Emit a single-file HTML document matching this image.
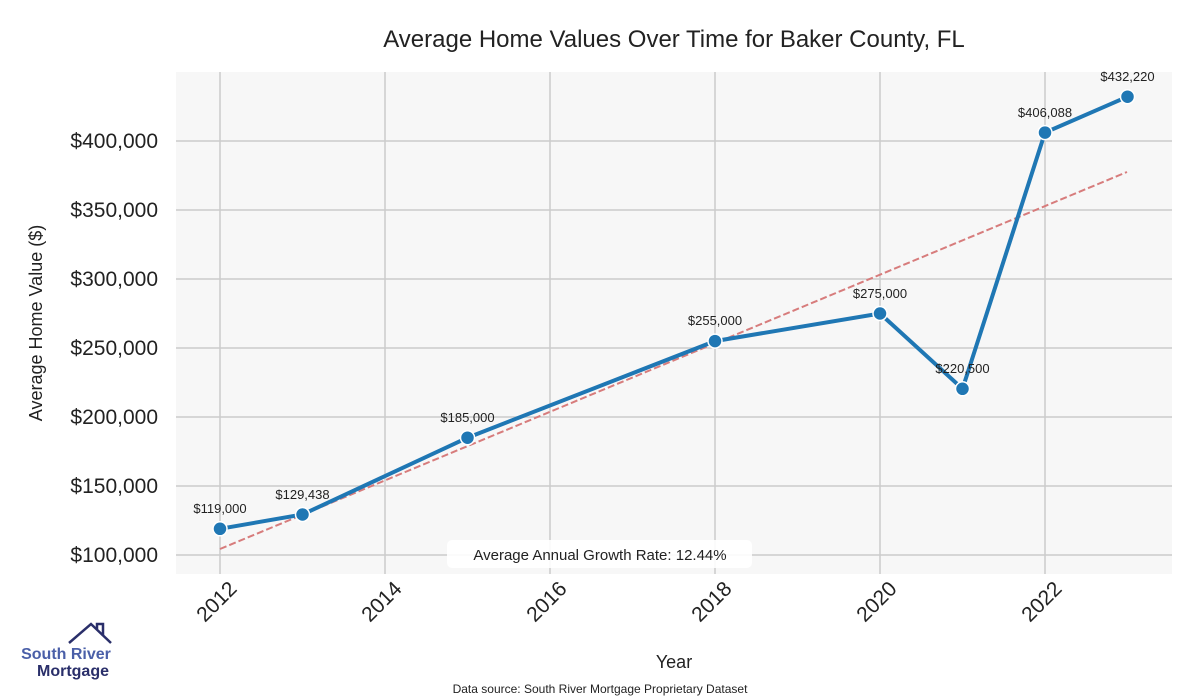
<!DOCTYPE html>
<html><head><style>body{margin:0;background:#fff}svg{display:block}text{font-family:"Liberation Sans",sans-serif}</style></head><body>
<svg width="1200" height="700" viewBox="0 0 1200 700">
<rect x="176" y="72" width="996" height="502" fill="#f7f7f7"/>
<g stroke="#cccccc" stroke-width="1.5">
<line x1="220" y1="72" x2="220" y2="574"/><line x1="385" y1="72" x2="385" y2="574"/><line x1="550" y1="72" x2="550" y2="574"/><line x1="715" y1="72" x2="715" y2="574"/><line x1="880" y1="72" x2="880" y2="574"/><line x1="1045" y1="72" x2="1045" y2="574"/>
<line x1="176" y1="555" x2="1172" y2="555"/><line x1="176" y1="486" x2="1172" y2="486"/><line x1="176" y1="417" x2="1172" y2="417"/><line x1="176" y1="348" x2="1172" y2="348"/><line x1="176" y1="279" x2="1172" y2="279"/><line x1="176" y1="210" x2="1172" y2="210"/><line x1="176" y1="141" x2="1172" y2="141"/>
</g>
<text x="674" y="47" font-size="24" text-anchor="middle" fill="#222">Average Home Values Over Time for Baker County, FL</text>
<g font-size="21" fill="#222" text-anchor="end">
<text x="158" y="562">$100,000</text><text x="158" y="493">$150,000</text><text x="158" y="424">$200,000</text><text x="158" y="355">$250,000</text><text x="158" y="286">$300,000</text><text x="158" y="217">$350,000</text><text x="158" y="148">$400,000</text>
</g>
<text transform="translate(42,323) rotate(-90)" font-size="18" text-anchor="middle" fill="#222">Average Home Value ($)</text>
<g font-size="21" fill="#222" text-anchor="end">
<text transform="translate(238,590) rotate(-45)">2012</text><text transform="translate(403,590) rotate(-45)">2014</text><text transform="translate(568,590) rotate(-45)">2016</text><text transform="translate(733,590) rotate(-45)">2018</text><text transform="translate(898,590) rotate(-45)">2020</text><text transform="translate(1063,590) rotate(-45)">2022</text>
</g>
<text x="674" y="668" font-size="18" text-anchor="middle" fill="#222">Year</text>
<line x1="220" y1="549" x2="1127" y2="172" stroke="#d77c7c" stroke-width="2" stroke-dasharray="7,3"/>
<polyline points="220,528.8 302.5,514.5 467.5,437.7 715,341.1 880,313.5 962.5,388.8 1045,132.6 1127.5,96.7" fill="none" stroke="#1f77b4" stroke-width="4"/>
<g fill="#1f77b4" stroke="#fff" stroke-width="1.5">
<circle cx="220" cy="528.8" r="7"/><circle cx="302.5" cy="514.5" r="7"/><circle cx="467.5" cy="437.7" r="7"/><circle cx="715" cy="341.1" r="7"/><circle cx="880" cy="313.5" r="7"/><circle cx="962.5" cy="388.8" r="7"/><circle cx="1045" cy="132.6" r="7"/><circle cx="1127.5" cy="96.7" r="7"/>
</g>
<g font-size="13" fill="#222" text-anchor="middle">
<text x="220" y="513">$119,000</text><text x="302.5" y="499">$129,438</text><text x="467.5" y="422">$185,000</text><text x="715" y="325">$255,000</text><text x="880" y="298">$275,000</text><text x="962.5" y="373">$220,500</text><text x="1045" y="117">$406,088</text><text x="1127.5" y="81">$432,220</text>
</g>
<rect x="447" y="540" width="305" height="28" rx="5" fill="#fff" opacity="0.9"/>
<text x="600" y="560" font-size="15" text-anchor="middle" fill="#222">Average Annual Growth Rate: 12.44%</text>
<text x="600" y="693" font-size="12" text-anchor="middle" fill="#222">Data source: South River Mortgage Proprietary Dataset</text>
<polyline points="69,643 91,624 111,643" fill="none" stroke="#2a2f6a" stroke-width="2.5"/>
<polyline points="97,629 97,624 103,624 103,636" fill="none" stroke="#2a2f6a" stroke-width="2.5"/>
<text x="66" y="659" font-size="16" font-weight="bold" text-anchor="middle" fill="#4a5fa8">South River</text>
<text x="73" y="676" font-size="16" font-weight="bold" text-anchor="middle" fill="#2a2f6a">Mortgage</text>
</svg>
</body></html>
